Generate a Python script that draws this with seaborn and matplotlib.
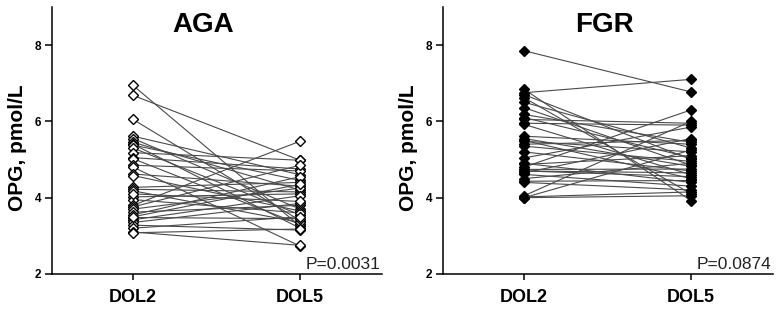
import pandas as pd
import seaborn as sns
import matplotlib.pyplot as plt

# paired OPG values (pmol/L), day of life 2 vs day of life 5
days = ['DOL2', 'DOL5']

aga_dol2 = [6.94, 6.68, 6.05, 5.61, 5.55, 5.45, 5.40, 5.38, 5.30, 5.18, 5.05, 5.02,
            4.85, 4.80, 4.62, 4.58, 4.27, 4.22, 4.18, 4.02, 3.95, 3.80, 3.76, 3.70,
            3.62, 3.55, 3.48, 3.42, 3.35, 3.28, 3.20, 3.10, 3.08, 3.50, 4.10]
aga_dol5 = [3.25, 4.98, 3.40, 4.60, 3.70, 4.20, 3.20, 4.45, 3.55, 4.98, 4.75, 3.30,
            4.70, 2.73, 4.30, 3.65, 4.40, 4.15, 3.35, 4.10, 3.60, 5.48, 4.85, 4.25,
            3.80, 4.55, 3.45, 4.05, 3.85, 3.15, 3.50, 2.75, 3.18, 4.35, 3.90]

fgr_dol2 = [7.85, 6.84, 6.75, 6.70, 6.62, 6.50, 6.36, 6.18, 6.05, 5.95, 5.92, 5.61,
            5.50, 5.48, 5.40, 5.35, 5.20, 5.04, 4.90, 4.87, 4.80, 4.74, 4.70, 4.65,
            4.61, 4.50, 4.43, 4.40, 4.05, 4.02, 4.00, 4.00, 4.70, 5.55, 6.10]
fgr_dol5 = [6.77, 3.92, 7.10, 5.00, 4.10, 5.30, 4.85, 5.45, 5.95, 5.90, 4.60, 5.40,
            4.50, 5.20, 5.50, 4.95, 4.70, 5.85, 4.40, 5.10, 6.30, 4.75, 4.55, 5.55,
            4.30, 4.90, 4.45, 4.20, 6.00, 4.15, 4.05, 5.25, 4.65, 4.82, 5.05]

groups = ['AGA', 'FGR']
p_values = ['P=0.0031', 'P=0.0874']


def to_long(d2, d5):
    rows = []
    for i, (a, b) in enumerate(zip(d2, d5)):
        rows.append({'subject': i, 'day': 0, 'opg': a})
        rows.append({'subject': i, 'day': 1, 'opg': b})
    return pd.DataFrame(rows)


data = {'AGA': to_long(aga_dol2, aga_dol5), 'FGR': to_long(fgr_dol2, fgr_dol5)}

sns.set_style('ticks', {'axes.edgecolor': 'black', 'text.color': 'black',
                        'xtick.color': 'black', 'ytick.color': 'black',
                        'axes.labelcolor': 'black'})
plt.rcParams['font.family'] = ['Liberation Sans', 'DejaVu Sans']

fig = plt.figure(figsize=(7.82, 3.11), dpi=100)
axes = [fig.add_axes([0.0665, 0.119, 0.422, 0.859]),
        fig.add_axes([0.5665, 0.119, 0.422, 0.859])]
title_x = [0.458, 0.488]
face = {'AGA': 'white', 'FGR': 'black'}

for ax, grp, p, tx in zip(axes, groups, p_values, title_x):
    sns.lineplot(data=data[grp], x='day', y='opg', units='subject', estimator=None,
                 color='#4a4a4a', lw=0.8, marker='D', markersize=4.8,
                 markerfacecolor=face[grp], markeredgecolor='black',
                 markeredgewidth=1.0, ax=ax)
    ax.set_xlim(-0.485, 1.49)
    ax.set_ylim(2, 9)
    ax.set_xticks([0, 1])
    ax.set_xticklabels(days, fontsize=13, fontweight='bold')
    ax.set_yticks([2, 4, 6, 8])
    ax.set_yticklabels(['2', '4', '6', '8'], fontsize=8.5, fontweight='bold')
    ax.tick_params(axis='x', length=4, width=1.1, pad=7)
    ax.tick_params(axis='y', length=5, width=1.1, pad=3)
    ax.set_xlabel('')
    ax.set_ylabel('OPG, pmol/L', fontsize=15, fontweight='bold')
    ax.yaxis.set_label_coords(-0.075, 0.472)
    for s in ['left', 'bottom']:
        ax.spines[s].set_linewidth(1.1)
    sns.despine(ax=ax)
    ax.text(tx, 0.933, grp, transform=ax.transAxes, ha='center', va='center',
            fontsize=20, fontweight='bold')
    ax.text(0.994, 0.019, p, transform=ax.transAxes, ha='right', va='baseline',
            fontsize=12.5, color='#222222')

fig.savefig('out.png', dpi=100)
